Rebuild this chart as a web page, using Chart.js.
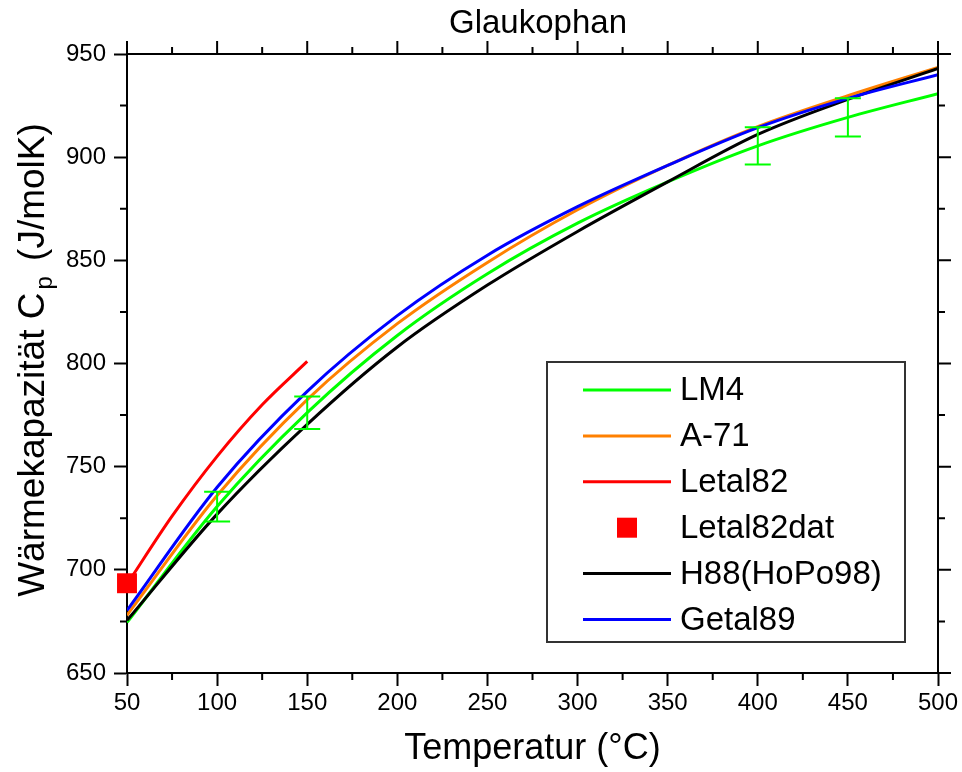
<!DOCTYPE html>
<html>
<head>
<meta charset="utf-8">
<script src="https://cdn.jsdelivr.net/npm/chart.js@4.4.0/dist/chart.umd.min.js"></script>
<style>
  body { margin: 0; background: #fff; }
</style>
</head>
<body>
<canvas id="myChart" width="962" height="772"></canvas>
<script>
// temperatures (°C) and Cp values (J/molK)
const temps = [50, 100, 150, 200, 250, 300, 350, 400, 450, 500];
const lm4 = [674.5, 730.7, 776.2, 813.6, 843.5, 868, 888, 905.5, 919.3, 930.8];
const a71 = [678, 736, 782.5, 819.3, 849, 874.5, 896, 914.8, 929.8, 943.5];
const h88 = [675.5, 727, 770.5, 808, 838, 864, 888, 911, 928, 943];
const getal89 = [680.3, 740, 786.5, 823.2, 852.5, 876, 896, 914.3, 928.5, 940];

const letalTemps = [50, 75, 100, 125, 150];
const letal82 = [693, 726, 755, 780, 801];

const letalDatTemps = [50];
const letalDat = [693.5];

// LM4 error bars
const errTemps = [100, 150, 400, 450];
const errLow = [723.4, 768.3, 896.4, 910];
const errHigh = [737.9, 784, 914.5, 928.5];

const xTicks = [50, 100, 150, 200, 250, 300, 350, 400, 450, 500];
const yTicks = [650, 700, 750, 800, 850, 900, 950];

const fam = "'Liberation Sans', Arial, sans-serif";

function pts(xs, ys) {
  return xs.map((x, i) => ({ x: x, y: ys[i] }));
}

const extras = {
  id: "extras",
  afterDatasetsDraw(chart) {
    const ctx = chart.ctx;
    const xs = chart.scales.x, ys = chart.scales.y;
    ctx.save();
    ctx.strokeStyle = "#00ff00";
    ctx.lineWidth = 2;
    for (let i = 0; i < errTemps.length; i++) {
      let px = xs.getPixelForValue(errTemps[i]);
      let top = ys.getPixelForValue(errHigh[i]);
      let bot = ys.getPixelForValue(errLow[i]);
      ctx.beginPath();
      ctx.moveTo(px, top); ctx.lineTo(px, bot);
      ctx.moveTo(px - 13, top); ctx.lineTo(px + 13, top);
      ctx.moveTo(px - 13, bot); ctx.lineTo(px + 13, bot);
      ctx.stroke();
    }
    ctx.restore();
  },
  afterDraw(chart) {
    const ctx = chart.ctx, a = chart.chartArea;
    const xs = chart.scales.x, ys = chart.scales.y;
    ctx.save();
    ctx.strokeStyle = "#000";
    ctx.lineWidth = 2;
    // top and right frame
    ctx.beginPath();
    ctx.moveTo(a.left, a.top); ctx.lineTo(a.right, a.top); ctx.lineTo(a.right, a.bottom);
    ctx.stroke();
    // ticks on all sides (major on top/right, minor everywhere)
    ctx.beginPath();
    for (let v = 50; v <= 500; v += 25) {
      let px = xs.getPixelForValue(v);
      let len = v % 50 === 0 ? 13 : 7;
      ctx.moveTo(px, a.top); ctx.lineTo(px, a.top - len);
      if (len === 7) { ctx.moveTo(px, a.bottom); ctx.lineTo(px, a.bottom + 7); }
    }
    for (let v = 650; v <= 950; v += 25) {
      let py = ys.getPixelForValue(v);
      let len = v % 50 === 0 ? 13 : 7;
      ctx.moveTo(a.right, py); ctx.lineTo(a.right + len, py);
      if (len === 7) { ctx.moveTo(a.left, py); ctx.lineTo(a.left - 7, py); }
    }
    ctx.stroke();

    ctx.fillStyle = "#000";
    // chart title
    ctx.font = "33px " + fam;
    ctx.textAlign = "center";
    ctx.textBaseline = "middle";
    ctx.fillText("Glaukophan", 538, 24);
    // x axis title
    ctx.font = "36px " + fam;
    ctx.fillText("Temperatur (°C)", (a.left + a.right) / 2, 749);

    // y axis title with subscript p
    ctx.translate(44, 360);
    ctx.rotate(-Math.PI / 2);
    ctx.textAlign = "left";
    ctx.textBaseline = "alphabetic";
    const p1 = "Wärmekapazität C", p3 = " (J/molK)";
    ctx.font = "37px " + fam;
    let w1 = ctx.measureText(p1).width, w3 = ctx.measureText(p3).width;
    ctx.font = "24px " + fam;
    let w2 = ctx.measureText("p").width + 8;
    let x0 = -(w1 + w2 + w3) / 2;
    ctx.font = "37px " + fam;
    ctx.fillText(p1, x0, 0);
    ctx.fillText(p3, x0 + w1 + w2, 0);
    ctx.font = "24px " + fam;
    ctx.fillText("p", x0 + w1 + 3, 8);
    ctx.restore();

    // legend box
    ctx.save();
    ctx.strokeStyle = "#333";
    ctx.lineWidth = 2;
    ctx.strokeRect(547, 362, 358, 280);
    ctx.font = "33px " + fam;
    ctx.textAlign = "left";
    ctx.textBaseline = "middle";
    chart.data.datasets.forEach((ds, i) => {
      let y = 390 + i * 45.9;
      if (ds.showLine === false) {
        ctx.fillStyle = ds.backgroundColor;
        ctx.fillRect(617, y - 10, 20, 20);
      } else {
        ctx.strokeStyle = ds.borderColor;
        ctx.lineWidth = 3;
        ctx.beginPath();
        ctx.moveTo(583, y); ctx.lineTo(671, y);
        ctx.stroke();
      }
      ctx.fillStyle = "#000";
      ctx.fillText(ds.label, 680, y + 1);
    });
    ctx.restore();
  }
};

function lineSet(label, xs, ys, color, order) {
  return {
    label: label,
    data: pts(xs, ys),
    borderColor: color,
    backgroundColor: color,
    borderWidth: 3,
    pointRadius: 0,
    cubicInterpolationMode: "monotone",
    order: order
  };
}

const ctx = document.getElementById("myChart").getContext("2d");
new Chart(ctx, {
  type: "line",
  data: {
    datasets: [
      lineSet("LM4", temps, lm4, "#00ff00", 5),
      lineSet("A-71", temps, a71, "#ff8000", 4),
      lineSet("Letal82", letalTemps, letal82, "#ff0000", 3),
      {
        label: "Letal82dat",
        data: pts(letalDatTemps, letalDat),
        showLine: false,
        pointStyle: "rect",
        pointRadius: 14.1,
        borderWidth: 0,
        backgroundColor: "#ff0000",
        borderColor: "#ff0000",
        clip: false,
        order: 2
      },
      lineSet("H88(HoPo98)", temps, h88, "#000000", 1),
      lineSet("Getal89", temps, getal89, "#0000ff", 0)
    ]
  },
  options: {
    responsive: false,
    animation: false,
    layout: { padding: { top: 54, right: 24, left: 0, bottom: 0 } },
    plugins: {
      legend: { display: false },
      tooltip: { enabled: false },
      title: { display: false }
    },
    scales: {
      x: {
        type: "linear",
        min: 50,
        max: 500,
        afterFit: (s) => { s.height = 99; },
        afterBuildTicks: (s) => { s.ticks = xTicks.map((v) => ({ value: v })); },
        border: { color: "#000", width: 2 },
        grid: { drawOnChartArea: false, tickLength: 13, tickWidth: 2, tickColor: "#000" },
        ticks: { color: "#000", font: { family: fam, size: 24 }, padding: 3, maxRotation: 0 }
      },
      y: {
        min: 650,
        max: 950,
        afterFit: (s) => { s.width = 127; },
        afterBuildTicks: (s) => { s.ticks = yTicks.map((v) => ({ value: v })); },
        border: { color: "#000", width: 2 },
        grid: { drawOnChartArea: false, tickLength: 13, tickWidth: 2, tickColor: "#000" },
        ticks: { color: "#000", font: { family: fam, size: 24 }, padding: 8 }
      }
    }
  },
  plugins: [extras]
});
</script>
</body>
</html>
